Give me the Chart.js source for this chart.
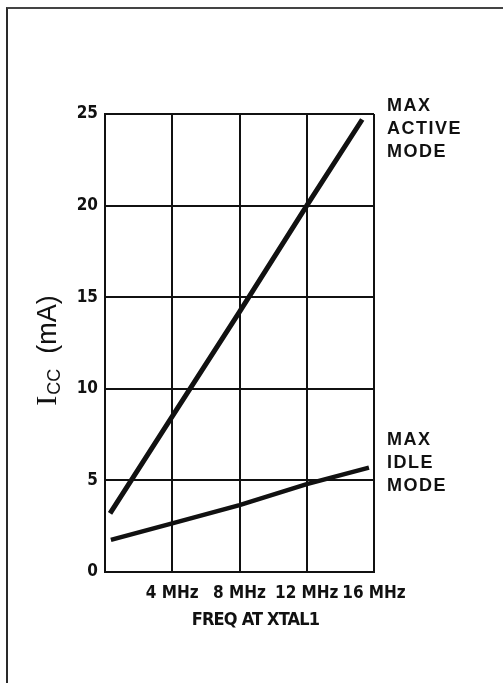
<!DOCTYPE html>
<html>
<head>
<meta charset="utf-8">
<script src="https://cdn.jsdelivr.net/npm/chart.js@4.4.0/dist/chart.umd.min.js"></script>
<style>
  html, body { margin: 0; padding: 0; background: #fff; overflow: hidden; }
  #frame {
    position: absolute; left: 6px; top: 7px; width: 495px; height: 676px;
    border-left: 2px solid #2a2a2a; border-top: 2px solid #444;
  }
  #chart { position: absolute; left: 0; top: 0; }
</style>
</head>
<body>
<div id="frame"></div>
<canvas id="chart" width="503" height="683"></canvas>
<script>
// Supply current vs. crystal frequency
const freqActive = [0.3, 4, 8, 12, 15.3];
const iccActive = [3.2, 8.5, 14.2, 20, 24.7];
const freqIdle = [0.35, 4, 8, 12, 15.7];
const iccIdle = [1.75, 2.65, 3.65, 4.8, 5.7];

const xTickValues = [4, 8, 12, 16];
const xTickLabels = ["4 MHz", "8 MHz", "12 MHz", "16 MHz"];
const yTickValues = [0, 5, 10, 15, 20, 25];

const curveNames = [["MAX", "ACTIVE", "MODE"], ["MAX", "IDLE", "MODE"]];
const curveNameLevels = [24.2, 5.95];

const ink = "#111";
const heavy = "'DejaVu Sans Condensed', 'Liberation Sans', Arial, sans-serif";

function toPoints(xs, ys) {
  return xs.map((x, i) => ({ x: x, y: ys[i] }));
}

// Axis title, x title and curve names
const textPlugin = {
  id: "chartText",
  afterDraw: (chart) => {
    const ctx = chart.ctx;
    const xScale = chart.scales.x;
    const yScale = chart.scales.y;
    const area = chart.chartArea;

    ctx.save();
    ctx.fillStyle = ink;

    // curve names to the right of the plot
    ctx.font = "bold 18px 'Liberation Sans', Arial, sans-serif";
    ctx.letterSpacing = "1.5px";
    ctx.textAlign = "left";
    ctx.textBaseline = "middle";
    const nameX = xScale.getPixelForValue(16) + 13;
    curveNames.forEach((lines, k) => {
      const mid = yScale.getPixelForValue(curveNameLevels[k]);
      lines.forEach((t, j) => {
        ctx.fillText(t, nameX, mid + (j - 1) * 23);
      });
    });

    // x axis title
    ctx.font = "bold 18px " + heavy;
    ctx.letterSpacing = "-0.8px";
    ctx.textAlign = "center";
    ctx.fillText("FREQ AT XTAL1", (area.left + area.right) / 2 + 16, 620);

    // y axis title: I with CC subscript, then (mA)
    ctx.letterSpacing = "0px";
    ctx.translate(46, (area.top + area.bottom) / 2 + 8);
    ctx.rotate(-Math.PI / 2);
    ctx.textAlign = "left";
    ctx.textBaseline = "alphabetic";
    const fI = "30px 'Liberation Serif', serif";
    const fSub = "18px 'Liberation Sans', Arial, sans-serif";
    const fUnit = "27px 'Liberation Sans', Arial, sans-serif";
    ctx.font = fI;
    const wI = ctx.measureText("I").width;
    ctx.font = fSub;
    const wSub = ctx.measureText("CC").width;
    ctx.font = fUnit;
    const wUnit = ctx.measureText("  (mA)").width;
    let x = -(wI + wSub + wUnit) / 2;
    const base = 10;
    ctx.font = fI;
    ctx.fillText("I", x, base);
    x += wI + 1;
    ctx.font = fSub;
    ctx.fillText("CC", x, base + 4);
    x += wSub;
    ctx.font = fUnit;
    ctx.fillText("  (mA)", x, base);
    ctx.restore();
  },
};

new Chart(document.getElementById("chart"), {
  type: "line",
  data: {
    datasets: [
      {
        label: "Max active mode",
        data: toPoints(freqActive, iccActive),
        borderColor: ink,
        borderWidth: 5,
        pointRadius: 0,
        tension: 0,
      },
      {
        label: "Max idle mode",
        data: toPoints(freqIdle, iccIdle),
        borderColor: ink,
        borderWidth: 4.5,
        pointRadius: 0,
        tension: 0,
      },
    ],
  },
  options: {
    responsive: false,
    animation: false,
    layout: { padding: { left: 0, top: 114, right: 129, bottom: 0 } },
    plugins: {
      legend: { display: false },
      tooltip: { enabled: false },
    },
    scales: {
      x: {
        type: "linear",
        min: 0,
        max: 16,
        afterFit: (scale) => { scale.height = 111; },
        afterBuildTicks: (scale) => {
          scale.ticks = [0].concat(xTickValues).map((v) => ({ value: v }));
        },
        grid: { color: ink, lineWidth: 2, drawTicks: false },
        border: { color: ink, width: 2 },
        ticks: {
          padding: 11,
          color: ink,
          maxRotation: 0,
          autoSkip: false,
          font: { family: heavy, size: 17, weight: "bold" },
          callback: (v) => {
            const i = xTickValues.indexOf(v);
            return i >= 0 ? xTickLabels[i] : "";
          },
        },
      },
      y: {
        min: 0,
        max: 25,
        afterFit: (scale) => { scale.width = 105; },
        afterBuildTicks: (scale) => {
          scale.ticks = yTickValues.map((v) => ({ value: v }));
        },
        grid: { color: ink, lineWidth: 2, drawTicks: false },
        border: { color: ink, width: 2 },
        ticks: {
          padding: 7,
          color: ink,
          font: { family: heavy, size: 17, weight: "bold" },
        },
      },
    },
  },
  plugins: [textPlugin],
});
</script>
</body>
</html>
